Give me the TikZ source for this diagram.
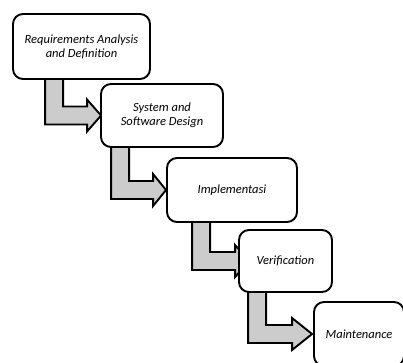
\documentclass[tikz,border=0pt]{standalone}
\usepackage{fontspec}
\setmainfont{Carlito}
\usetikzlibrary{calc, positioning, backgrounds}

\begin{document}
\begin{tikzpicture}[x=1pt,y=-1pt,node distance=70pt,on grid,
      phase/.style={draw,line width=1.9pt,rounded corners=10pt,fill=white,
        align=center,font=\itshape\fontsize{12.5}{14}\selectfont,inner sep=0pt},
      stair/.style={draw,line width=1.9pt,fill=gray!40,line join=miter}]
  \useasboundingbox (0,0) rectangle (403,362);
  \node[phase, minimum width=137pt, minimum height=65pt] (req) at (81.5,46.5)
        {Requirements Analysis\\and Definition};
  \node[phase, minimum width=122pt, minimum height=63pt] (design)
        [below right=69pt and 80.5pt of req] {System and\\Software Design};
  \node[phase, minimum width=130pt, minimum height=64pt] (impl)
        [below right=74.5pt and 70pt of design] {Implementasi};
  \node[phase, minimum width=93pt, minimum height=62pt] (verif)
        [below right=71pt and 53.5pt of impl] {Verification};
  \node[phase, minimum width=90pt, minimum height=64pt] (maint)
        [below right=73pt and 73.5pt of verif] {Maintenance};
  % L-shaped block arrows, behind the boxes
  % #3 shaft offset, #4 head back before target, #5 head length
  \newcommand\stairarrow[5]{%
    \draw[stair] let \p1=(#1.south west), \p2=(#2.west) in
      (\x1+#3,\y1+4pt) -- (\x1+#3,\y2-9pt) -- (\x2-#4,\y2-9pt)
      -- (\x2-#4,\y2-16pt) -- (\x2-#4+#5,\y2) -- (\x2-#4,\y2+16pt)
      -- (\x2-#4,\y2+9pt) -- (\x1+#3+18pt,\y2+9pt)
      -- (\x1+#3+18pt,\y1+4pt) -- cycle;}
  \begin{pgfonlayer}{background}
    \stairarrow{req}{design}{33pt}{13pt}{14pt}
    \stairarrow{design}{impl}{11pt}{13pt}{13pt}
    \stairarrow{impl}{verif}{26pt}{3pt}{14pt}
    \stairarrow{verif}{maint}{10pt}{21pt}{20pt}
  \end{pgfonlayer}
\end{tikzpicture}
\end{document}
